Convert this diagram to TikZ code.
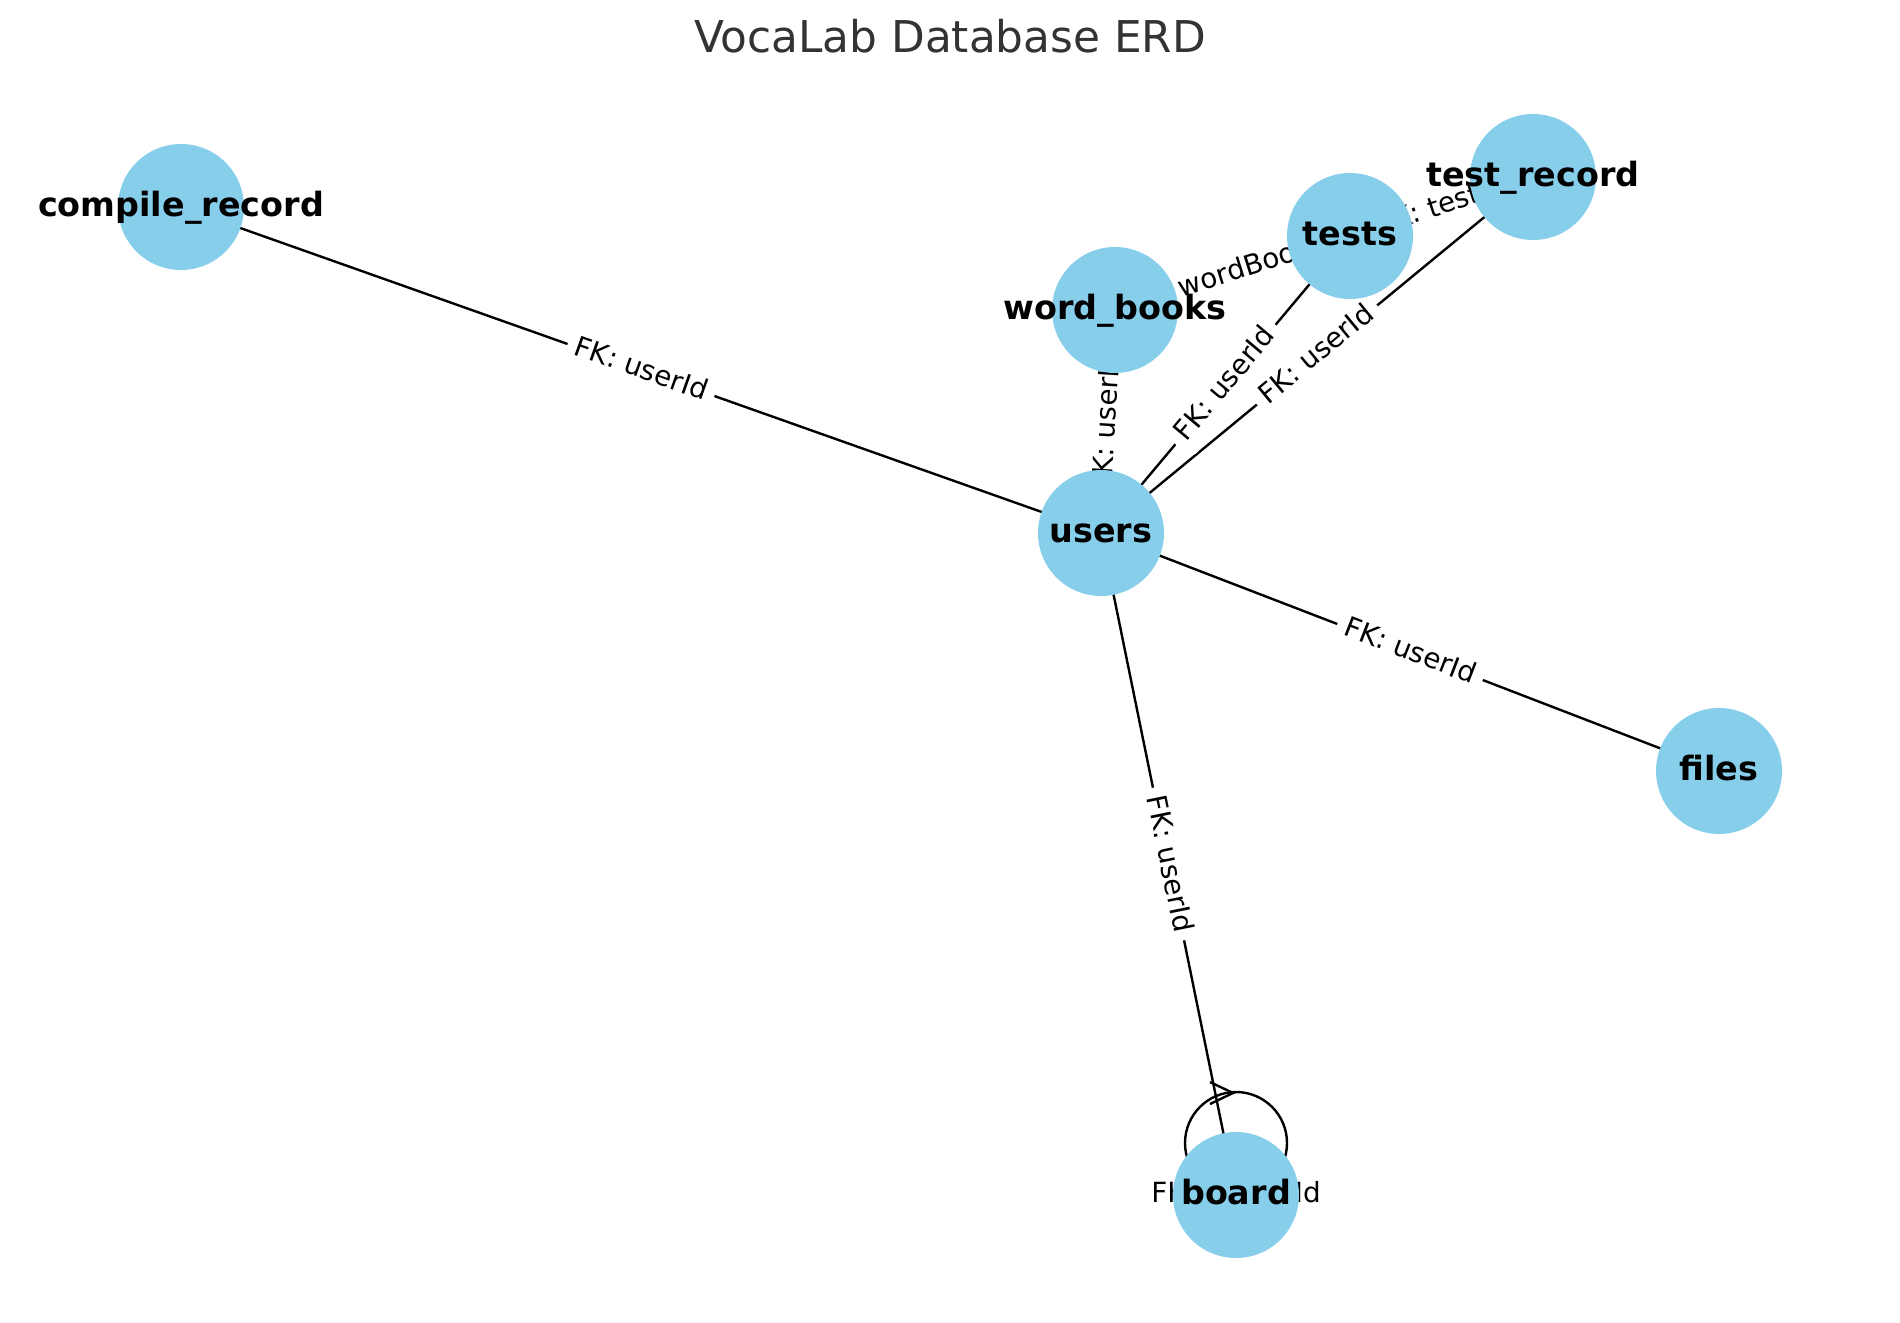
\documentclass[tikz,border=0pt]{standalone}
\usepackage{fontspec}
\setmainfont{DejaVu Sans}
\definecolor{skyblue}{HTML}{87CEEB}
\definecolor{titlegray}{HTML}{333333}
\newcommand\nodelabfont{\bfseries\fontsize{16.7pt}{20pt}\selectfont}
\newcommand\edgelabfont{\fontsize{13.9pt}{16pt}\selectfont}
\newcommand\titlelabfont{\fontsize{21.9pt}{26pt}\selectfont}
\pgfdeclarelayer{edges}
\pgfdeclarelayer{elabels}
\pgfsetlayers{edges,elabels,main}
\tikzset{
  ent/.style={circle, fill=skyblue, minimum size=63pt, inner sep=0pt, outer sep=0pt},
  nlab/.style={font=\nodelabfont, text=black, text height=13pt, text depth=3.5pt, inner sep=0pt},
  elab/.style={font=\edgelabfont, fill=white, rounded corners=4pt, text height=10.8pt, text depth=2.9pt, inner xsep=4.2pt, inner ysep=4.2pt, sloped, pos=0.5},
  elabflat/.style={font=\edgelabfont, fill=white, rounded corners=4pt, text height=10.8pt, text depth=2.9pt, inner xsep=4.2pt, inner ysep=4.2pt},
  conn/.style={line width=1.2pt, draw=black},
}
\begin{document}
\begin{tikzpicture}[x=0.5pt,y=-0.5pt]
\useasboundingbox (0,0) rectangle (1900,1322);

\node[font=\titlelabfont, text=titlegray, anchor=base, inner sep=0pt] (title) at (950,53) {VocaLab Database ERD};

\node[ent, label={[nlab, name=compile-l]center:compile\_record}] (compile) at (181,207) {};
\node[ent, label={[nlab, name=users-l]center:users}] (users) at (1101,533) {};
\node[ent, label={[nlab, name=wb-l]center:word\_books}] (wb) at (1115,310) {};
\node[ent, label={[nlab, name=tests-l]center:tests}] (tests) at (1350,236) {};
\node[ent, label={[nlab, name=tr-l]center:test\_record}] (tr) at (1533,177) {};
\node[ent, label={[nlab, name=files-l]center:files}] (files) at (1719,771) {};
\node[ent, label={[nlab, name=board-l]center:board}] (board) at (1236,1195) {};

\begin{pgfonlayer}{edges}
\draw[conn] (compile.center) -- (users.center);
\draw[conn] (wb.center) -- (users.center);
\draw[conn] (tests.center) -- (users.center);
\draw[conn] (tr.center) -- (users.center);
\draw[conn] (users.center) -- (files.center);
\draw[conn] (users.center) -- (board.center);
\draw[conn] (wb.center) -- (tests.center);
\draw[conn] (tests.center) -- (tr.center);
\draw[conn] ([yshift=26pt]board.center) circle[radius=25.5pt];
\draw[conn, line join=miter] (1210,1082) -- (1233,1093) -- (1210,1104);
\end{pgfonlayer}

\begin{pgfonlayer}{elabels}
\path (compile.center) -- node[elab] (e1) {FK: userId} (users.center);
\path (wb.center) -- node[elab] (e2) {FK: userId} (users.center);
\path (tests.center) -- node[elab] (e3) {FK: userId} (users.center);
\path (tr.center) -- node[elab] (e4) {FK: userId} (users.center);
\path (users.center) -- node[elab] (e5) {FK: userId} (files.center);
\path (users.center) -- node[elab] (e6) {FK: userId} (board.center);
\path (wb.center) -- node[elab] (e7) {FK: wordBookId} (tests.center);
\path (tests.center) -- node[elab] (e8) {FK: testId} (tr.center);
\node[elabflat] (e9) at (board.center) {FK: parentId};
\end{pgfonlayer}
\end{tikzpicture}
\end{document}
